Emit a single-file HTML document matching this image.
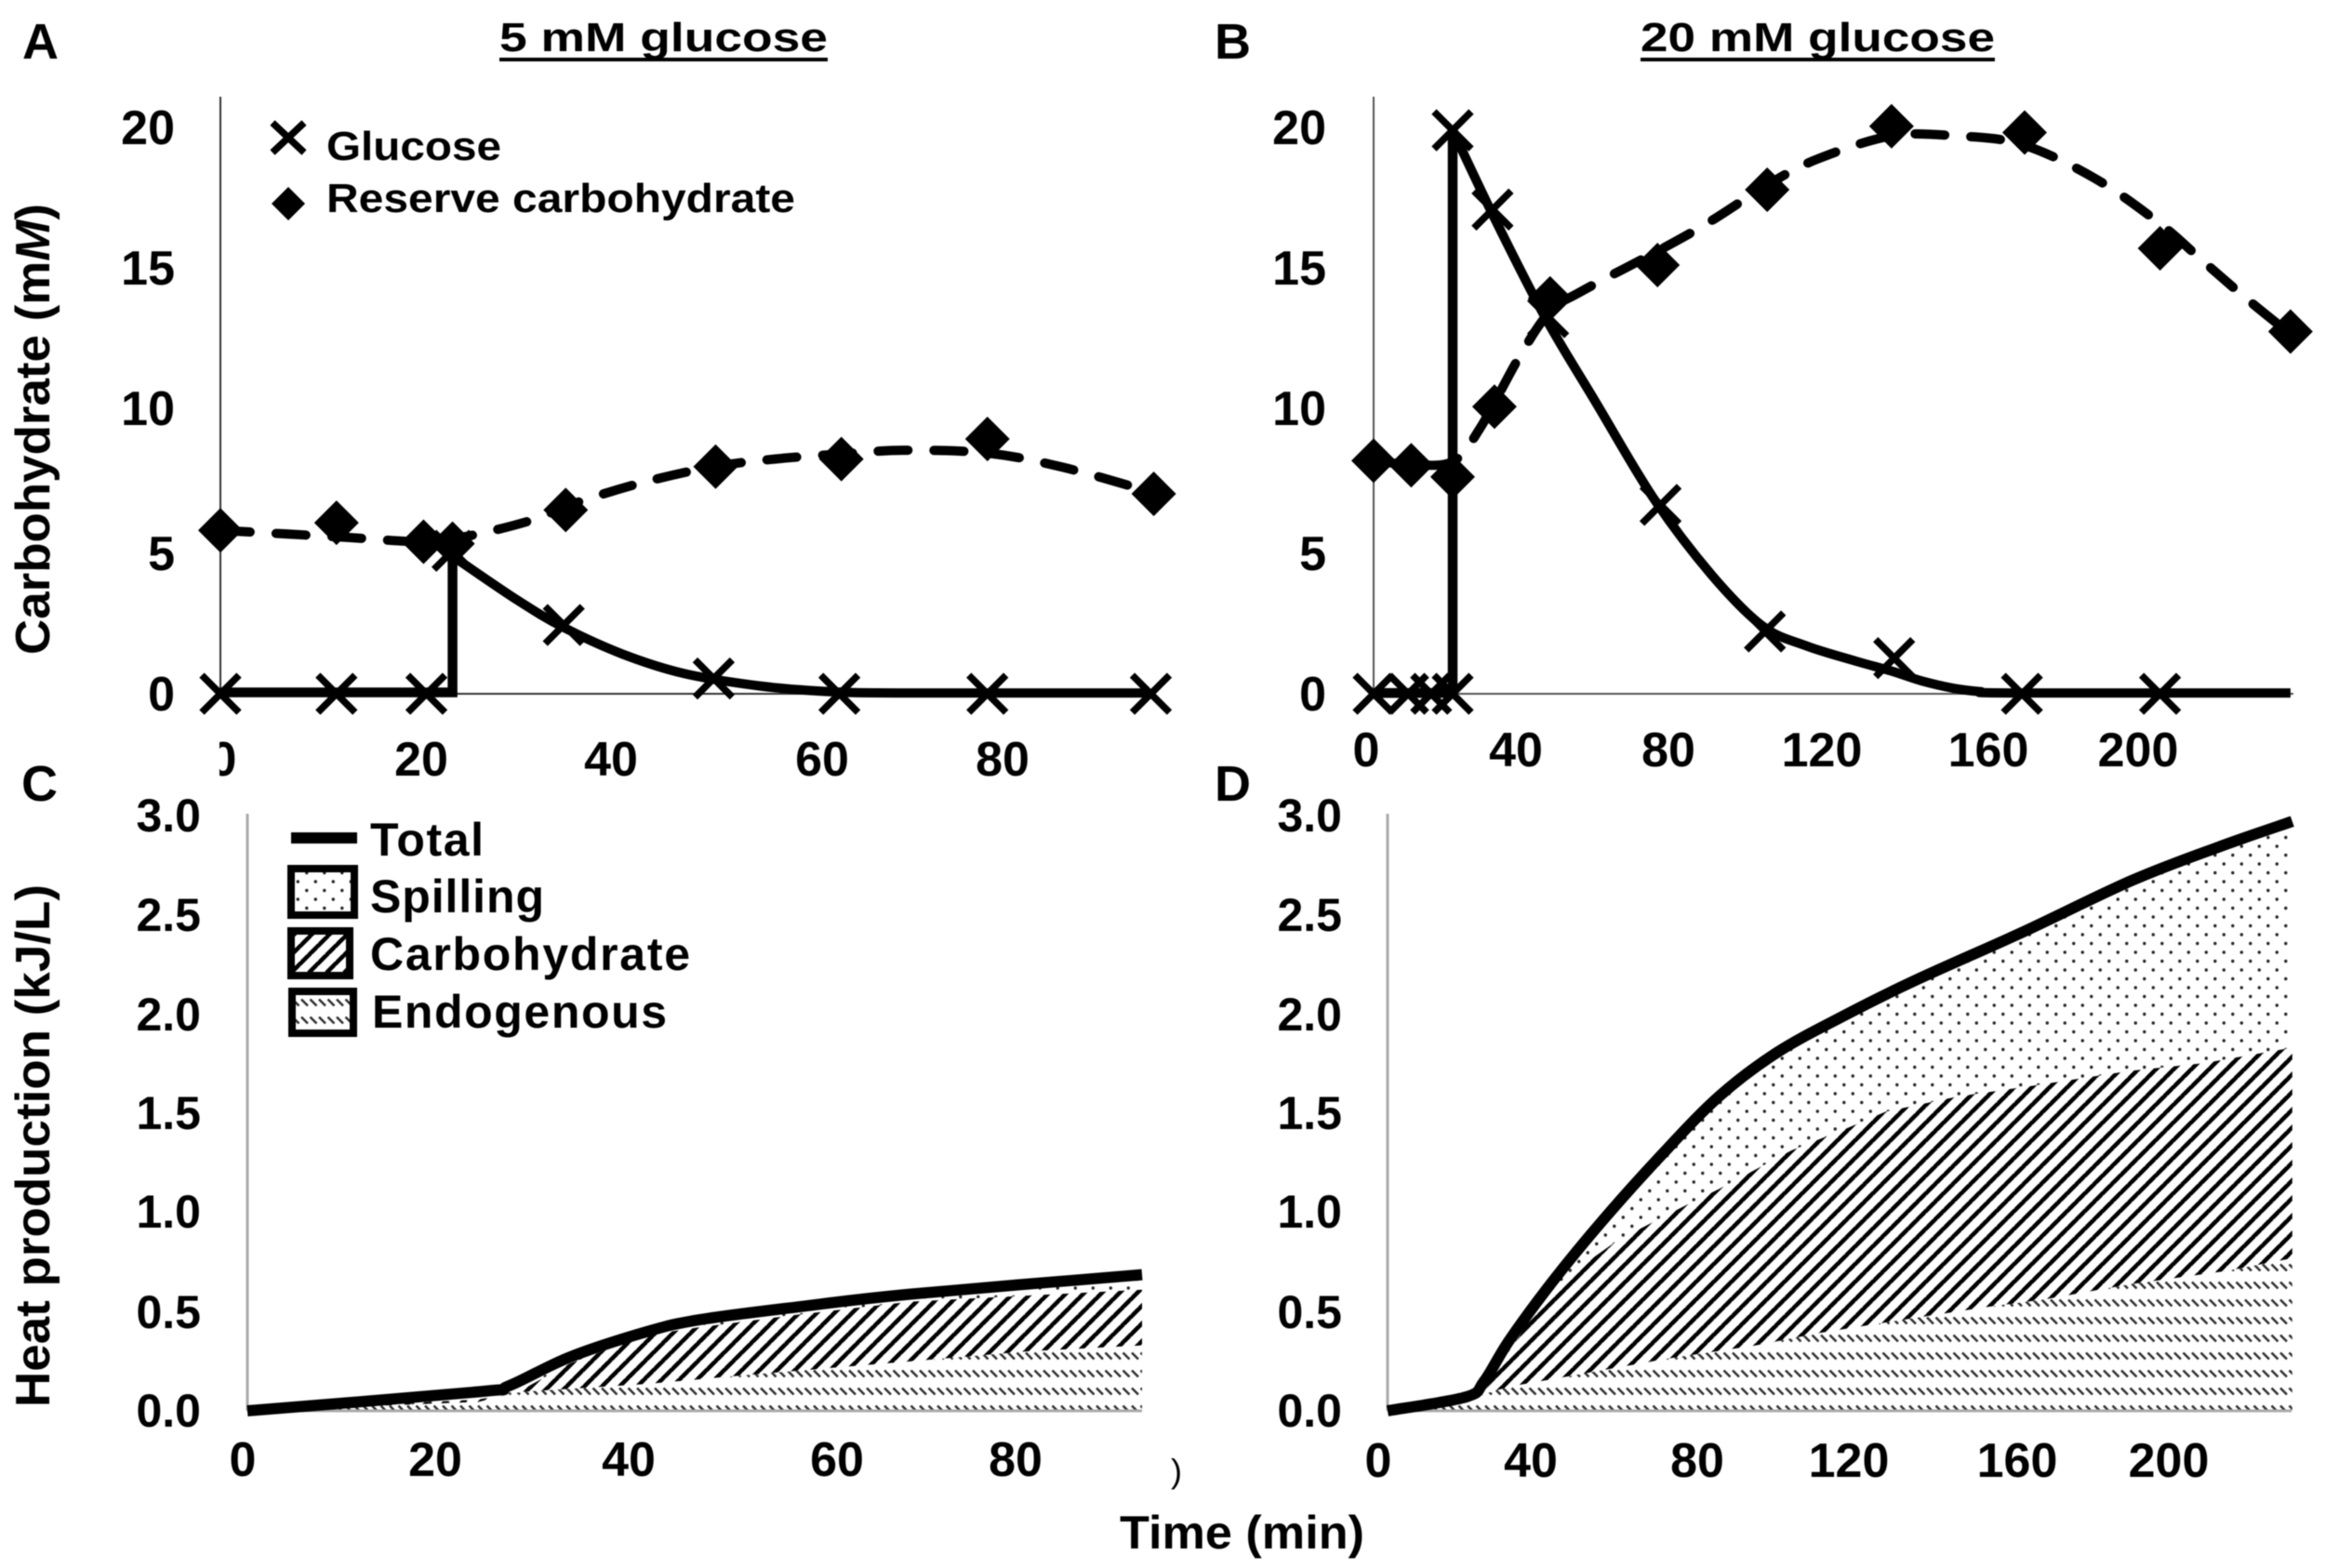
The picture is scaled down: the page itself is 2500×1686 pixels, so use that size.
<!DOCTYPE html>
<html lang="en">
<head>
<meta charset="utf-8">
<title>Carbohydrate and heat production</title>
<style>
html,body{margin:0;padding:0;background:#fff;}
svg{display:block;filter:blur(0.5px);}
text{font-family:"Liberation Sans",Arial,sans-serif;font-weight:bold;fill:#000;}
.tick{font-size:52px;}
.tickr{font-size:50px;text-anchor:end;}
.mid{text-anchor:middle;}
</style>
</head>
<body>
<svg id="figure" xmlns="http://www.w3.org/2000/svg" width="2500" height="1686" viewBox="0 0 2500 1686">
<defs>
<pattern id="dots" patternUnits="userSpaceOnUse" x="2006.55" y="1114.25" width="19" height="19">
<circle cx="4.75" cy="4.75" r="1.7" fill="#222"/>
<circle cx="14.25" cy="14.25" r="1.7" fill="#222"/>
</pattern>
<pattern id="diag" patternUnits="userSpaceOnUse" x="0" y="0" width="19" height="19">
<path d="M-1,11 L11,-1 M9,20 L20,9" stroke="#000" stroke-width="4.6" fill="none"/>
</pattern>
<pattern id="rows" patternUnits="userSpaceOnUse" x="0" y="0" width="9.5" height="19">
<path d="M1,10.5 L8,17.5" stroke="#333" stroke-width="2.6" fill="none"/>
</pattern>
</defs>
<rect x="0" y="0" width="2500" height="1686" fill="#fff"/>

<text x="24" y="63" font-size="54">A</text>
<text x="1306" y="63" font-size="54">B</text>
<text x="23" y="861" font-size="54">C</text>
<text x="1306" y="861" font-size="54">D</text>

<text x="537" y="55" font-size="44" textLength="353" lengthAdjust="spacingAndGlyphs">5 mM glucose</text>
<rect x="537" y="62" width="353" height="4" fill="#000"/>
<text x="1764" y="55" font-size="44" textLength="381" lengthAdjust="spacingAndGlyphs">20 mM glucose</text>
<rect x="1764" y="62" width="381" height="4" fill="#000"/>

<text transform="translate(53,704) rotate(-90)" font-size="52" textLength="485" lengthAdjust="spacingAndGlyphs">Carbohydrate (m<tspan font-style="italic">M</tspan>)</text>
<text transform="translate(53,1513) rotate(-90)" font-size="52" textLength="562" lengthAdjust="spacingAndGlyphs">Heat production (kJ/L)</text>
<text x="1204" y="1665" font-size="50" textLength="263" lengthAdjust="spacingAndGlyphs">Time (min)</text>

<g>
<text class="tick" text-anchor="end" x="188" y="155">20</text>
<text class="tick" text-anchor="end" x="188" y="306">15</text>
<text class="tick" text-anchor="end" x="188" y="457">10</text>
<text class="tick" text-anchor="end" x="188" y="613">5</text>
<text class="tick" text-anchor="end" x="188" y="764">0</text>
</g>
<g>
<text class="tick" text-anchor="end" x="1426" y="155">20</text>
<text class="tick" text-anchor="end" x="1426" y="306">15</text>
<text class="tick" text-anchor="end" x="1426" y="457">10</text>
<text class="tick" text-anchor="end" x="1426" y="613">5</text>
<text class="tick" text-anchor="end" x="1426" y="764">0</text>
</g>
<g>
<text class="tick mid" x="240" y="834">0</text>
<rect x="224" y="795" width="12" height="45" fill="#fff"/>
<text class="tick mid" x="453" y="834">20</text>
<text class="tick mid" x="657" y="834">40</text>
<text class="tick mid" x="884" y="834">60</text>
<text class="tick mid" x="1078" y="834">80</text>
</g>
<g>
<text class="tick mid" x="1469" y="824">0</text>
<text class="tick mid" x="1630" y="824">40</text>
<text class="tick mid" x="1794" y="824">80</text>
<text class="tick mid" x="1959" y="824">120</text>
<text class="tick mid" x="2138" y="824">160</text>
<text class="tick mid" x="2299" y="824">200</text>
</g>
<g>
<text class="tickr" x="216" y="894">3.0</text>
<text class="tickr" x="216" y="1001">2.5</text>
<text class="tickr" x="216" y="1108">2.0</text>
<text class="tickr" x="216" y="1214">1.5</text>
<text class="tickr" x="216" y="1320">1.0</text>
<text class="tickr" x="216" y="1428">0.5</text>
<text class="tickr" x="216" y="1534">0.0</text>
</g>
<g>
<text class="tickr" x="1443" y="894">3.0</text>
<text class="tickr" x="1443" y="1001">2.5</text>
<text class="tickr" x="1443" y="1108">2.0</text>
<text class="tickr" x="1443" y="1214">1.5</text>
<text class="tickr" x="1443" y="1320">1.0</text>
<text class="tickr" x="1443" y="1428">0.5</text>
<text class="tickr" x="1443" y="1534">0.0</text>
</g>
<g>
<text class="tick mid" x="261" y="1587">0</text>
<text class="tick mid" x="468" y="1587">20</text>
<text class="tick mid" x="676" y="1587">40</text>
<text class="tick mid" x="900" y="1587">60</text>
<text class="tick mid" x="1092" y="1587">80</text>
</g>
<text x="1259" y="1594" font-size="36" style="font-weight:normal">)</text>
<g>
<text class="tick mid" x="1482" y="1588">0</text>
<text class="tick mid" x="1646" y="1588">40</text>
<text class="tick mid" x="1825" y="1588">80</text>
<text class="tick mid" x="1988" y="1588">120</text>
<text class="tick mid" x="2169" y="1588">160</text>
<text class="tick mid" x="2332" y="1588">200</text>
</g>

<g id="marks"></g>

<g>
<path d="M293,132 L327,164 M327,132 L293,164" stroke="#000" stroke-width="7.5" fill="none"/>
<text x="351" y="172" font-size="44" textLength="188" lengthAdjust="spacingAndGlyphs">Glucose</text>
<path d="M310,201 L328,219 L310,237 L292,219 Z" fill="#000"/>
<text x="351" y="228" font-size="44" textLength="504" lengthAdjust="spacingAndGlyphs">Reserve carbohydrate</text>
</g>
<g>
<rect x="313" y="895" width="71" height="12" fill="#000"/>
<text x="398" y="920" font-size="50" textLength="122">Total</text>
<rect x="313" y="934" width="68" height="50" fill="url(#dots)" stroke="#000" stroke-width="8"/>
<text x="398" y="981" font-size="50" textLength="187">Spilling</text>
<rect x="313" y="1001" width="63" height="48" fill="url(#diag)" stroke="#000" stroke-width="8"/>
<text x="398" y="1043" font-size="50" textLength="344">Carbohydrate</text>
<rect x="314" y="1066" width="66" height="45" fill="url(#rows)" stroke="#000" stroke-width="8"/>
<text x="400" y="1105" font-size="50" textLength="317">Endogenous</text>
</g>
</svg>

<script>
// Panel A: 5 mM glucose
const aGlucoseMarkerTime = [0, 12, 21.3, 24, 35.5, 51, 64, 79.3, 96.2];
const aGlucoseMarkerValue = [0, 0, 0, 5.05, 2.43, 0.54, 0, 0, 0];
const aReserveMarkerTime = [0, 12, 21, 24, 35.7, 51.2, 64.2, 79.3, 96.5];
const aReserveMarkerValue = [5.77, 6.04, 5.37, 5.3, 6.49, 8.02, 8.29, 9.0, 7.06];
const aStepTime = [0, 24, 24];
const aStepValue = [0.05, 0.05, 4.86];
const aGlucoseFitTime = [24, 30.6, 35.5, 41.6, 47.9, 55.7, 62.8, 70, 96.1];
const aGlucoseFitValue = [4.86, 3.33, 2.34, 1.4, 0.72, 0.28, 0.08, 0.03, 0.03];
const aReserveFitTime = [0, 11.8, 21.2, 25.9, 32.2, 36.9, 43.9, 51, 57.3, 64.2, 70.7, 79.3, 87.1, 96.5];
const aReserveFitValue = [5.77, 5.55, 5.37, 5.59, 6.13, 6.76, 7.48, 8.02, 8.29, 8.47, 8.6, 8.5, 8.0, 7.1];

// Panel B: 20 mM glucose
const bGlucoseMarkerTime = [0, 9, 15, 20.6, 20.6, 31, 45.5, 74.8, 102, 135.7, 169, 205];
const bGlucoseMarkerValue = [0, 0, 0, 0, 19.9, 17.1, 13.3, 6.67, 2.2, 1.26, 0, 0];
const bReserveMarkerTime = [0, 9.8, 20.6, 31.5, 46, 74, 102.6, 135, 169.7, 205, 239];
const bReserveMarkerValue = [8.23, 8.07, 7.66, 10.14, 13.96, 15.14, 17.8, 20.04, 19.82, 15.73, 12.79];
const bStepTime = [0, 20.6, 20.6];
const bStepValue = [0.03, 0.03, 19.9];
const bGlucoseFitTime = [20.6, 31.5, 44.7, 57.9, 73, 88.1, 101.3, 112.6, 125.8, 135, 143, 151, 158, 166, 239];
const bGlucoseFitValue = [19.9, 16.8, 13.3, 10.3, 6.9, 4.2, 2.4, 1.7, 1.15, 0.8, 0.45, 0.2, 0.08, 0.03, 0.03];
const bReserveFitTime = [0, 9.8, 20.6, 27.7, 38, 46, 54, 75, 88, 103, 116, 135, 152, 169, 188, 205, 216, 228, 239];
const bReserveFitValue = [8.23, 8.1, 8.2, 9.37, 11.9, 13.5, 14.2, 15.7, 16.7, 18.0, 18.9, 19.7, 19.7, 19.4, 18.2, 16.6, 15.3, 13.9, 12.7];

// Panel C: heat production at 5 mM
const cTotalTime = [0, 23.9, 27, 33.3, 41.1, 46.6, 56.8, 68.6, 92.5];
const cTotalValue = [0, 0.096, 0.125, 0.27, 0.396, 0.458, 0.523, 0.588, 0.686];
const cCarbTime = [0, 23.9, 28, 33.3, 41.1, 46.6, 56.8, 68.6, 92.5];
const cCarbValue = [0, 0.045, 0.096, 0.238, 0.38, 0.42, 0.484, 0.55, 0.61];
const cEndoTime = [0, 23.9, 28.5, 41.1, 53, 68.6, 80.7, 92.5];
const cEndoValue = [0, 0.057, 0.096, 0.135, 0.186, 0.25, 0.3, 0.33];

// Panel D: heat production at 20 mM
const dTotalTime = [0, 19.8, 24.4, 30.8, 41.8, 54.6, 69.2, 83.9, 98.5, 115, 133.3, 160.8, 188.3, 210.3, 228.9];
const dTotalValue = [0, 0.07, 0.148, 0.355, 0.653, 0.963, 1.287, 1.585, 1.805, 1.986, 2.167, 2.413, 2.672, 2.841, 2.97];
const dCarbTime = [0, 19.8, 24.4, 36.3, 45.4, 58.2, 74.7, 83.9, 102.2, 116.8, 126, 144.3, 162.6, 188.3, 206.6, 228.9];
const dCarbValue = [0, 0.05, 0.096, 0.47, 0.678, 0.859, 1.028, 1.118, 1.312, 1.429, 1.507, 1.584, 1.636, 1.714, 1.752, 1.83];
const dEndoTime = [0, 19.8, 30.8, 45.4, 71, 93, 109.5, 126, 151.6, 166.3, 188.3, 212, 228.9];
const dEndoValue = [0, 0.057, 0.122, 0.173, 0.264, 0.329, 0.393, 0.445, 0.523, 0.562, 0.639, 0.704, 0.769];

const SVG_NS = 'http://www.w3.org/2000/svg';
const marks = document.getElementById('marks');

const xA = t => 237 + 10.4 * t;
const yA = v => 746 - 30.45 * v;
const xB = t => 1477 + 4.125 * t;
const yB = v => 746 - 30.45 * v;
const xC = t => 266 + 10.4 * t;
const yC = v => 1517 - 213.4 * v;
const xD = t => 1492 + 4.25 * t;
const yD = v => 1517 - 213.4 * v;

function svgEl(tag, attrs) {
  const el = document.createElementNS(SVG_NS, tag);
  for (const k in attrs) el.setAttribute(k, attrs[k]);
  marks.appendChild(el);
  return el;
}

function points(ts, vs, xf, yf) {
  return ts.map((t, i) => [xf(t), yf(vs[i])]);
}

function straight(pts) {
  return pts.map((p, i) => (i ? 'L' : 'M') + p[0].toFixed(1) + ',' + p[1].toFixed(1)).join(' ');
}

function smooth(pts) {
  let d = 'M' + pts[0][0].toFixed(1) + ',' + pts[0][1].toFixed(1);
  for (let i = 0; i < pts.length - 1; i++) {
    const p0 = pts[Math.max(i - 1, 0)];
    const p1 = pts[i];
    const p2 = pts[i + 1];
    const p3 = pts[Math.min(i + 2, pts.length - 1)];
    const c1x = p1[0] + (p2[0] - p0[0]) / 6;
    const c1y = p1[1] + (p2[1] - p0[1]) / 6;
    const c2x = p2[0] - (p3[0] - p1[0]) / 6;
    const c2y = p2[1] - (p3[1] - p1[1]) / 6;
    d += ' C' + c1x.toFixed(1) + ',' + c1y.toFixed(1) + ' ' + c2x.toFixed(1) + ',' + c2y.toFixed(1) + ' ' + p2[0].toFixed(1) + ',' + p2[1].toFixed(1);
  }
  return d;
}

function drawAxis(name, x, top, bottom, right, colour, width) {
  const v = svgEl('line', { x1: x, y1: top, x2: x, y2: bottom, stroke: colour, 'stroke-width': width });
  
  
  const h = svgEl('line', { x1: x, y1: bottom, x2: right, y2: bottom, stroke: colour, 'stroke-width': width });
  
  
}

function drawStep(name, ts, vs, xf, yf) {
  const el = svgEl('path', { d: straight(points(ts, vs, xf, yf)), fill: 'none', stroke: '#000', 'stroke-width': 10.5, 'stroke-linejoin': 'miter' });
  
  
}

function drawCurve(name, ts, vs, xf, yf, width, dash) {
  const attrs = { d: smooth(points(ts, vs, xf, yf)), fill: 'none', stroke: '#000', 'stroke-width': width };
  if (dash) { attrs['stroke-dasharray'] = dash; attrs['stroke-linecap'] = 'round'; }
  const el = svgEl('path', attrs);
  
  
}

function drawCrosses(name, ts, vs, xf, yf) {
  ts.forEach((t, i) => {
    const x = xf(t), y = yf(vs[i]), r = 20;
    const el = svgEl('path', { d: `M${x - r},${y - r} L${x + r},${y + r} M${x + r},${y - r} L${x - r},${y + r}`, fill: 'none', stroke: '#000', 'stroke-width': 7.5 });
    
    
  });
}

function drawDiamonds(name, ts, vs, xf, yf) {
  ts.forEach((t, i) => {
    const x = xf(t), y = yf(vs[i]), rx = 24, ry = 24;
    const el = svgEl('path', { d: `M${x},${y - ry} L${x + rx},${y} L${x},${y + ry} L${x - rx},${y} Z`, fill: '#000' });
    
    
  });
}

function drawBand(name, fill, upperT, upperV, lowerT, lowerV, xf, yf) {
  const upper = points(upperT, upperV, xf, yf);
  const lower = points(lowerT, lowerV, xf, yf).reverse();
  const el = svgEl('path', { d: straight(upper.concat(lower)) + ' Z', fill: fill });
  
  
}

// Panel A
drawAxis('panel-a', 237, 104, 746, 1237, '#333', 2);
drawCurve('panel-a-reserve-fit', aReserveFitTime, aReserveFitValue, xA, yA, 10, '32 28');
drawStep('panel-a-glucose-step', aStepTime, aStepValue, xA, yA);
drawCurve('panel-a-glucose-fit', aGlucoseFitTime, aGlucoseFitValue, xA, yA, 10);
drawDiamonds('panel-a-reserve-point', aReserveMarkerTime, aReserveMarkerValue, xA, yA);
drawCrosses('panel-a-glucose-point', aGlucoseMarkerTime, aGlucoseMarkerValue, xA, yA);

// Panel B
drawAxis('panel-b', 1477, 104, 746, 2466, '#555', 2);
drawCurve('panel-b-reserve-fit', bReserveFitTime, bReserveFitValue, xB, yB, 10, '32 28');
drawStep('panel-b-glucose-step', bStepTime, bStepValue, xB, yB);
drawCurve('panel-b-glucose-fit', bGlucoseFitTime, bGlucoseFitValue, xB, yB, 10);
drawDiamonds('panel-b-reserve-point', bReserveMarkerTime, bReserveMarkerValue, xB, yB);
drawCrosses('panel-b-glucose-point', bGlucoseMarkerTime, bGlucoseMarkerValue, xB, yB);

// Panel C
drawBand('panel-c-spilling-area', 'url(#dots)', cTotalTime, cTotalValue, cCarbTime, cCarbValue, xC, yC);
drawBand('panel-c-carbohydrate-area', 'url(#diag)', cCarbTime, cCarbValue, cEndoTime, cEndoValue, xC, yC);
drawBand('panel-c-endogenous-area', 'url(#rows)', cEndoTime, cEndoValue, [0, 92.5], [0, 0], xC, yC);
drawAxis('panel-c', 266, 875, 1517, 1228, '#aaa', 3);
drawCurve('panel-c-total-line', cTotalTime, cTotalValue, xC, yC, 12);

// Panel D
drawBand('panel-d-spilling-area', 'url(#dots)', dTotalTime, dTotalValue, dCarbTime, dCarbValue, xD, yD);
drawBand('panel-d-carbohydrate-area', 'url(#diag)', dCarbTime, dCarbValue, dEndoTime, dEndoValue, xD, yD);
drawBand('panel-d-endogenous-area', 'url(#rows)', dEndoTime, dEndoValue, [0, 228.9], [0, 0], xD, yD);
drawAxis('panel-d', 1492, 875, 1517, 2464, '#aaa', 3);
drawCurve('panel-d-total-line', dTotalTime, dTotalValue, xD, yD, 12);
</script>
</body>
</html>
